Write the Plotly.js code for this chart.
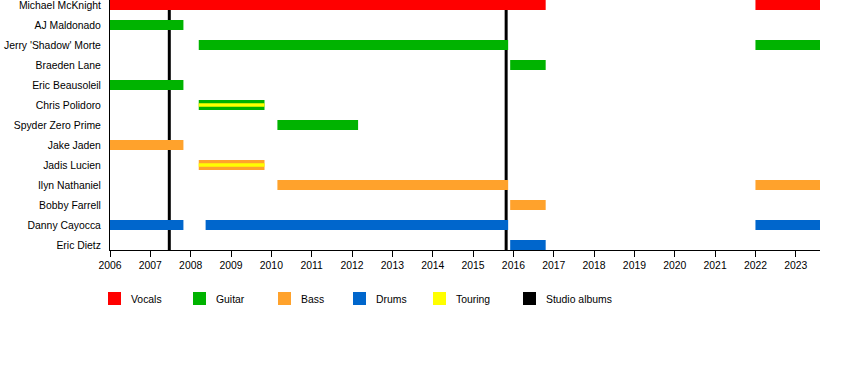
<!DOCTYPE html>
<html>
<head>
<meta charset="utf-8">
<script src="https://cdn.plot.ly/plotly-3.0.1.min.js"></script>
<style>html,body{margin:0;padding:0;background:#fff;}#chart{width:850px;height:370px;}</style>
</head>
<body>
<div id="chart"></div>
<script>
// Members, top to bottom
var members = ["Michael McKnight","AJ Maldonado","Jerry 'Shadow' Morte","Braeden Lane","Eric Beausoleil","Chris Polidoro","Spyder Zero Prime","Jake Jaden","Jadis Lucien","Ilyn Nathaniel","Bobby Farrell","Danny Cayocca","Eric Dietz"];

// Role segments: member, start, end
var vocalsWho   = ["Michael McKnight","Michael McKnight"];
var vocalsStart = [2006, 2022];
var vocalsEnd   = [2016.8, 2023.6];

var guitarWho   = ["AJ Maldonado","Jerry 'Shadow' Morte","Jerry 'Shadow' Morte","Braeden Lane","Eric Beausoleil","Chris Polidoro","Spyder Zero Prime"];
var guitarStart = [2006, 2008.2, 2022, 2015.92, 2006, 2008.2, 2010.15];
var guitarEnd   = [2007.82, 2015.87, 2023.6, 2016.8, 2007.82, 2009.83, 2012.15];

var bassWho   = ["Jake Jaden","Jadis Lucien","Ilyn Nathaniel","Ilyn Nathaniel","Bobby Farrell"];
var bassStart = [2006, 2008.2, 2010.15, 2022, 2015.92];
var bassEnd   = [2007.82, 2009.83, 2015.87, 2023.6, 2016.8];

var drumsWho   = ["Danny Cayocca","Danny Cayocca","Danny Cayocca","Eric Dietz"];
var drumsStart = [2006, 2008.37, 2022, 2015.92];
var drumsEnd   = [2007.82, 2015.87, 2023.6, 2016.8];

var touringWho   = ["Chris Polidoro","Jadis Lucien"];
var touringStart = [2008.2, 2008.2];
var touringEnd   = [2009.83, 2009.83];

var albumYears = [2007.47, 2015.82];

var tickYears = [2006,2007,2008,2009,2010,2011,2012,2013,2014,2015,2016,2017,2018,2019,2020,2021,2022,2023];

var legendLabels = ["Vocals","Guitar","Bass","Drums","Touring","Studio albums"];
var legendColors = ["#ff0000","#00b300","#ffa22c","#0066cc","#ffff00","#000000"];

var FONT = "Liberation Sans, Arial, sans-serif";
var FS = 10.4;

function seg(who, start, end, color, width) {
  return {
    type: "bar", orientation: "h",
    y: who, base: start,
    x: start.map(function (s, i) { return end[i] - s; }),
    marker: {color: color, line: {width: 0}},
    width: width, showlegend: false, hoverinfo: "skip"
  };
}

var traces = [
  seg(vocalsWho, vocalsStart, vocalsEnd, legendColors[0], 0.5),
  seg(guitarWho, guitarStart, guitarEnd, legendColors[1], 0.5),
  seg(bassWho, bassStart, bassEnd, legendColors[2], 0.5),
  seg(drumsWho, drumsStart, drumsEnd, legendColors[3], 0.5),
  seg(touringWho, touringStart, touringEnd, legendColors[4], 0.17)
];

var shapes = albumYears.map(function (yr) {
  return {type: "line", xref: "x", yref: "paper", x0: yr, x1: yr, y0: 0, y1: 1,
          line: {color: legendColors[5], width: 3}, layer: "below"};
});

// legend drawn below the plot (pixel positions -> paper coords)
var plotL = 110, plotW = 710, plotH = 250;
var legSquareX = [108, 193, 278, 353, 433, 523];
var annotations = [];
legendLabels.forEach(function (lab, i) {
  var x0 = (legSquareX[i] - plotL) / plotW;
  var x1 = (legSquareX[i] + 13 - plotL) / plotW;
  shapes.push({type: "rect", xref: "paper", yref: "paper",
    x0: x0, x1: x1, y0: (plotH - 292) / plotH, y1: (plotH - 305) / plotH,
    fillcolor: legendColors[i], line: {width: 0}});
  annotations.push({xref: "paper", yref: "paper", x: (legSquareX[i] + 21 - plotL) / plotW,
    y: (plotH - 299) / plotH, xanchor: "left", yanchor: "middle", showarrow: false,
    text: lab, font: {family: FONT, size: FS, color: "#000"}});
});

var layout = {
  width: 850, height: 370,
  margin: {l: plotL, r: 30, t: 0, b: 120, pad: 0},
  paper_bgcolor: "#fff", plot_bgcolor: "#fff",
  barmode: "overlay",
  showlegend: false,
  font: {family: FONT, size: FS, color: "#000"},
  xaxis: {
    range: [2006, 2023.6], tickvals: tickYears, ticktext: tickYears.map(String),
    showgrid: false, zeroline: false, showline: true, linecolor: "#000", linewidth: 1,
    ticks: "outside", ticklen: 6, tickcolor: "#000", tickwidth: 1,
    tickfont: {family: FONT, size: FS, color: "#000"}
  },
  yaxis: {
    type: "category", categoryorder: "array", categoryarray: members.slice().reverse(),
    range: [-0.25, 12.25], showgrid: false, zeroline: false,
    showline: true, linecolor: "#000", linewidth: 1, ticks: "",
    ticklabelstandoff: 6,
    tickfont: {family: FONT, size: FS, color: "#000"}
  },
  shapes: shapes,
  annotations: annotations
};

Plotly.newPlot("chart", traces, layout, {staticPlot: true, displayModeBar: false});
</script>
</body>
</html>
